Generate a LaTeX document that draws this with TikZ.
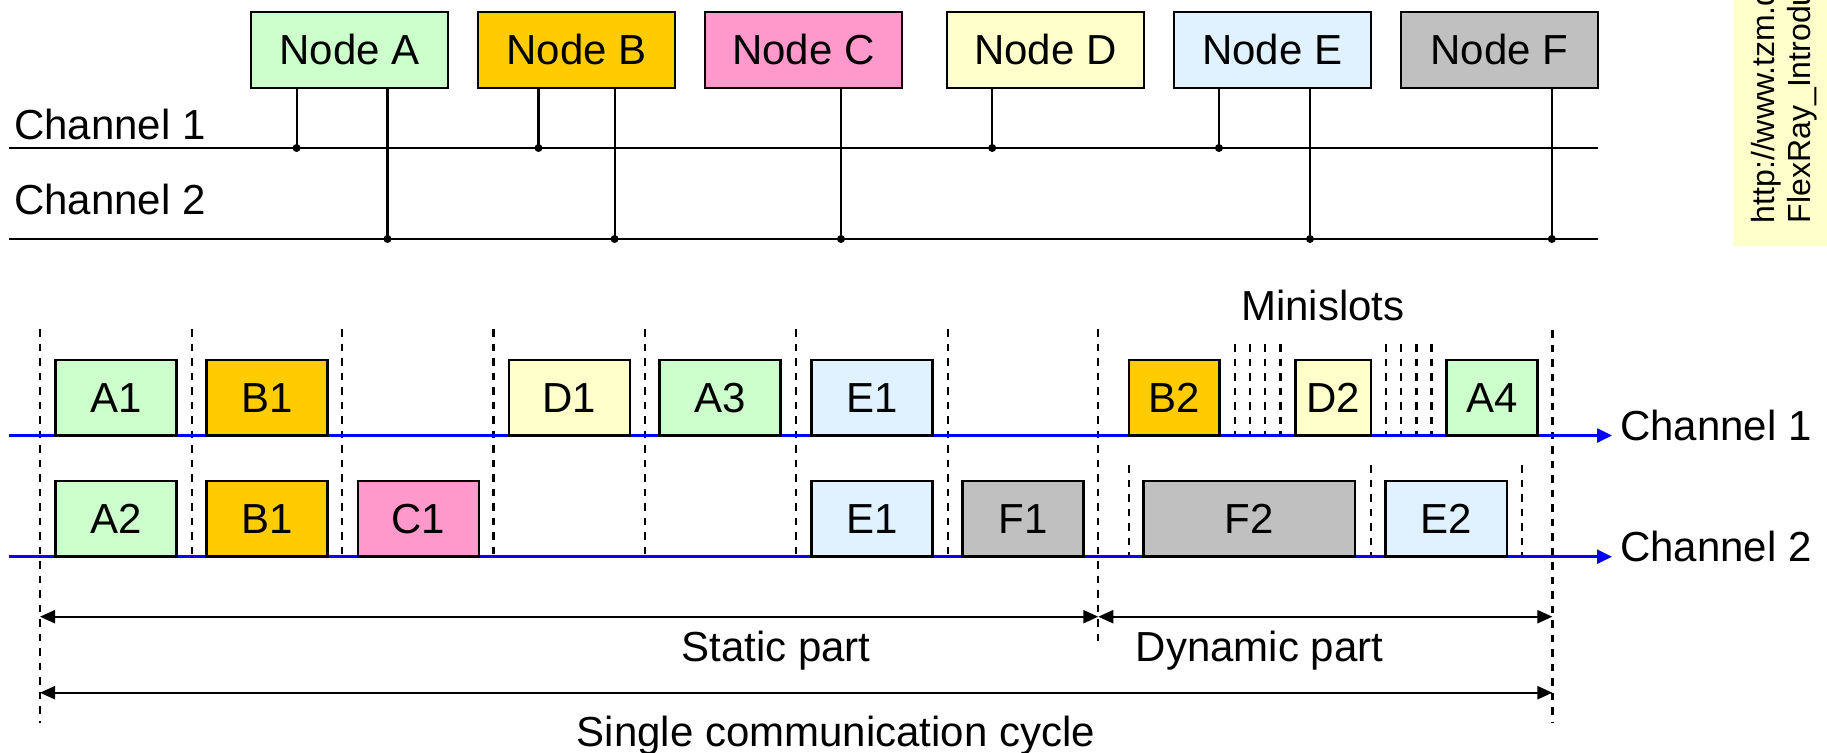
\documentclass[tikz,border=0pt]{standalone}
\usepackage{fontspec}
\setmainfont{Liberation Sans}
\usetikzlibrary{arrows.meta}
\definecolor{cA}{RGB}{204,255,204}
\definecolor{cB}{RGB}{255,204,0}
\definecolor{cC}{RGB}{255,153,204}
\definecolor{cD}{RGB}{255,255,204}
\definecolor{cE}{RGB}{224,242,255}
\definecolor{cF}{RGB}{192,192,192}
\definecolor{chblue}{RGB}{0,0,255}
\begin{document}
\begin{tikzpicture}[x=1pt,y=-1pt,
  every node/.style={font=\fontsize{42}{50}\selectfont, inner sep=0pt},
  nodebox/.style={draw=black, line width=2.5pt, text height=30pt, text depth=0pt, minimum height=76pt, minimum width=197pt},
  slotbox/.style={draw=black, line width=2.5pt, text height=30pt, text depth=0pt, minimum height=75.5pt},
  bus/.style={line width=2.2pt},
  tap/.style={line width=2.2pt},
  slotline/.style={line width=2.3pt, dash pattern=on 7.5pt off 7pt},
  chan/.style={draw=chblue, line width=2.5pt, -{Triangle[length=15pt,width=14pt]}},
  dimarrow/.style={line width=2.2pt, {Triangle[length=15pt,width=13pt]}-{Triangle[length=15pt,width=13pt]}},
  lbl/.style={anchor=base},
  lblw/.style={anchor=base west},
  srcnote/.style={rotate=90, anchor=base west, font=\fontsize{32}{38}\selectfont},
]
\useasboundingbox (0,0) rectangle (1827,752);

% ---------- source note (clipped at the page edge) ----------
\begin{scope}
  \clip (1733.3,0) rectangle (1827,245.7);
  \fill[cD] (1733.3,0) rectangle (1827,245.7);
  \node[srcnote] (src1) at (1774,223.3) {http://www.tzm.d};
  \node[srcnote] (src2) at (1810,223.3) {FlexRay\_Introdu};
\end{scope}

% ---------- top: nodes and buses ----------
\coordinate (b1L) at (8.7,148);  \coordinate (b1R) at (1597.8,148);
\coordinate (b2L) at (8.7,239);  \coordinate (b2R) at (1597.8,239);
\draw[bus] (b1L) -- (b1R);
\draw[bus] (b2L) -- (b2R);
\node[lblw] (lch1) at (14,139.3) {Channel 1};
\node[lblw] (lch2) at (14,214) {Channel 2};

\node[nodebox, fill=cA] (nA) at (349.5,50)   {Node A};
\node[nodebox, fill=cB] (nB) at (576.5,50)   {Node B};
\node[nodebox, fill=cC] (nC) at (803.25,50)  {Node C};
\node[nodebox, fill=cD] (nD) at (1045.35,50) {Node D};
\node[nodebox, fill=cE] (nE) at (1272.25,50) {Node E};
\node[nodebox, fill=cF] (nF) at (1499.25,50) {Node F};

\foreach \n/\x/\b in {A/296.6/1, A/387.5/2, B/538.5/1, B/614.6/2, C/841/2, D/992.2/1, E/1218.9/1, E/1310/2, F/1551.8/2}{
  \coordinate (t\n\b) at (\x,0);
  \draw[tap] (n\n.south -| t\n\b) -- (t\n\b |- b\b L);
  \fill (t\n\b |- b\b L) circle (4pt);
}

% ---------- bottom: time lines ----------
\coordinate (c1L) at (8.7,435.5);  \coordinate (c1R) at (1612,435.5);
\coordinate (c2L) at (8.7,556.7);  \coordinate (c2R) at (1612,556.7);

% slot boundaries
\coordinate (s0) at (40,329);     \coordinate (s0b) at (40,723);
\coordinate (s7) at (1098.3,329); \coordinate (s7b) at (1098.3,643);
\coordinate (s8) at (1552.4,330); \coordinate (s8b) at (1552.4,723);
\draw[slotline] (s0) -- (s0b);
\draw[slotline] (s7) -- (s7b);
\draw[slotline] (s8) -- (s8b);
\foreach \x in {191.8,342,493.5,644.7,795.7,948}{
  \draw[slotline] (\x,329) -- (\x,556.7);
}
% minislots
\foreach \x in {1235,1250.2,1265.3,1280.4,1386.2,1401.3,1416.4,1431.5}{
  \draw[slotline] (\x,344) -- (\x,435.5);
}
% dynamic boundaries on channel 2
\foreach \x in {1129,1371,1522.2}{
  \draw[slotline] (\x,465) -- (\x,556.7);
}

\draw[chan] (c1L) -- (c1R);
\draw[chan] (c2L) -- (c2R);

% channel 1 frames
\node[slotbox, fill=cA, minimum width=121pt] (a1) at (116.05,397.75) {A1};
\node[slotbox, fill=cB, minimum width=121pt] (b1) at (266.9,397.75) {B1};
\node[slotbox, fill=cD, minimum width=121pt] (d1) at (569.3,397.75) {D1};
\node[slotbox, fill=cA, minimum width=121pt] (a3) at (720.15,397.75) {A3};
\node[slotbox, fill=cE, minimum width=121pt] (e1) at (871.75,397.75) {E1};
\node[slotbox, fill=cB, minimum width=90.3pt] (b2) at (1174.15,397.75) {B2};
\node[slotbox, fill=cD, minimum width=75.5pt] (d2) at (1333.25,397.75) {D2};
\node[slotbox, fill=cA, minimum width=90.7pt] (a4) at (1491.95,397.75) {A4};
% channel 2 frames
\node[slotbox, fill=cA, minimum width=121pt] (a2) at (116.05,518.85) {A2};
\node[slotbox, fill=cB, minimum width=121pt] (b1x) at (266.9,518.85) {B1};
\node[slotbox, fill=cC, minimum width=121pt] (c1) at (418.5,518.85) {C1};
\node[slotbox, fill=cE, minimum width=121pt] (e1x) at (871.75,518.85) {E1};
\node[slotbox, fill=cF, minimum width=121pt] (f1) at (1022.9,518.85) {F1};
\node[slotbox, fill=cF, minimum width=211.3pt] (f2) at (1249.35,518.85) {F2};
\node[slotbox, fill=cE, minimum width=121.7pt] (e2) at (1446.15,518.85) {E2};

\node[lbl] (mini) at (1322.8,320) {Minislots};
\node[lblw] (rch1) at (1619.8,440) {Channel 1};
\node[lblw] (rch2) at (1619.8,561.7) {Channel 2};

% dimension arrows
\coordinate (st) at (40,616.7);
\draw[dimarrow] (st) -- (st -| s7);
\draw[dimarrow] (st -| s7) -- (st -| s8);
\coordinate (cy) at (40,692.7);
\draw[dimarrow] (cy) -- (cy -| s8);
\node[lbl] (tstatic) at (776,661) {Static part};
\node[lbl] (tdyn) at (1259.5,661) {Dynamic part};
\node[lbl] (tcycle) at (836,746) {Single communication cycle};
\end{tikzpicture}
\end{document}
